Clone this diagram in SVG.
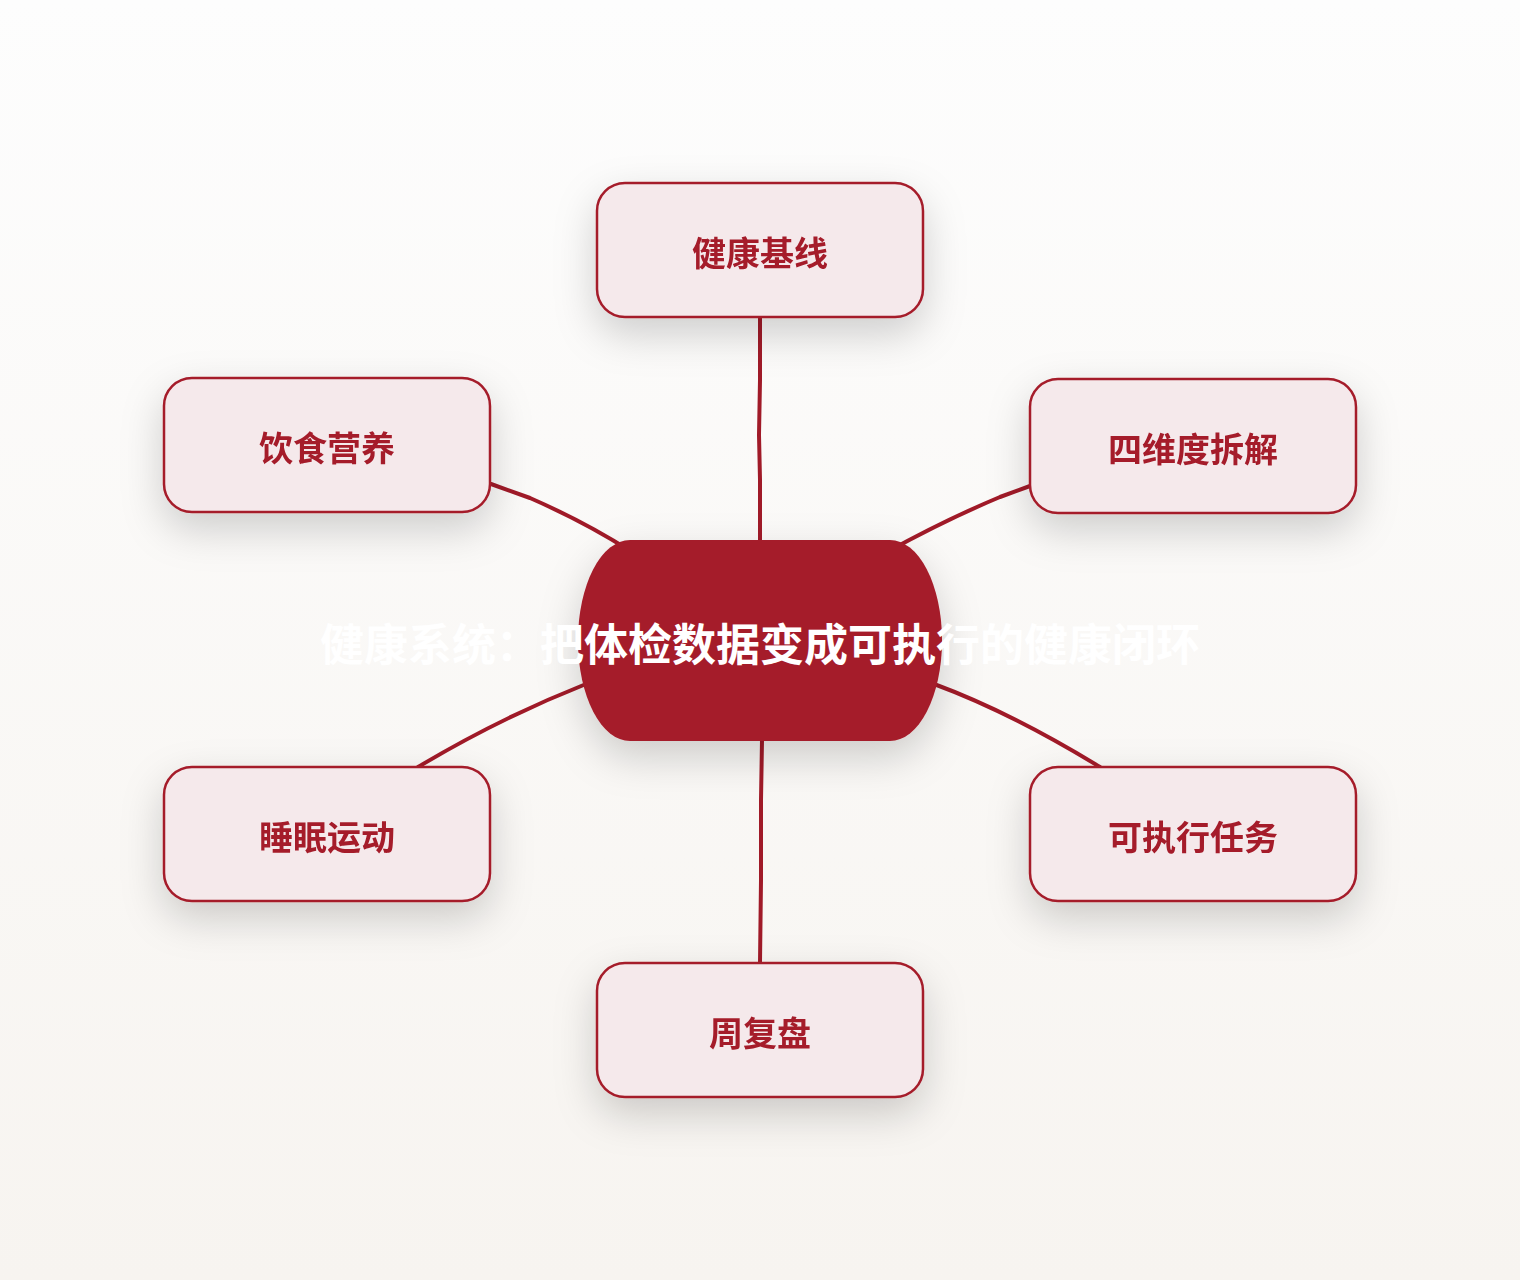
<svg xmlns="http://www.w3.org/2000/svg" width="1520" height="1280" viewBox="0 0 1520 1280">
  <defs>
    <linearGradient id="bg" x1="0" y1="0" x2="0" y2="1">
      <stop offset="0" stop-color="#fdfdfd"/>
      <stop offset="1" stop-color="#f7f4f0"/>
    </linearGradient>
    <filter id="shadow" x="-40%" y="-50%" width="180%" height="220%">
      <feDropShadow dx="0" dy="16" stdDeviation="20" flood-color="#000" flood-opacity="0.18"/>
    </filter>
    <style>
      .node rect.box { fill: #f5e9eb; stroke: #a51c2a; stroke-width: 2.5; }
      .node text { font-family: "Noto Sans CJK SC", "Noto Sans", sans-serif; font-weight: bold; font-size: 34px; fill: #a51c2a; text-anchor: middle; dominant-baseline: central; }
      .hub rect { fill: #a51c2a; }
      .hub text { font-family: "Noto Sans CJK SC", "Noto Sans", sans-serif; font-weight: bold; font-size: 44px; fill: #ffffff; text-anchor: middle; dominant-baseline: central; }
      .edge { fill: none; stroke: #a01a28; stroke-width: 4; stroke-linecap: round; stroke-linejoin: round; }
    </style>
  </defs>
  <rect x="0" y="0" width="1520" height="1280" fill="url(#bg)"/>

  <g id="connectors">
    <path class="edge" d="M760,318 L760,380 L759,435 L760,480 L760,542"/>
    <path class="edge" d="M491,484 L530,498 Q585,522 632,552"/>
    <path class="edge" d="M1030,486 L1000,497 Q945,520 887,552"/>
    <path class="edge" d="M586,684 Q500,718 418,767"/>
    <path class="edge" d="M934,684 Q1010,712 1100,767"/>
    <path class="edge" d="M762,740 L761,800 L761,880 L760,963"/>
  </g>

  <g id="node-baseline" class="node" filter="url(#shadow)">
    <rect class="box" x="597" y="183" width="326" height="134" rx="28" ry="28"/>
    <text x="760" y="251">健康基线</text>
  </g>
  <g id="node-diet" class="node" filter="url(#shadow)">
    <rect class="box" x="164" y="378" width="326" height="134" rx="28" ry="28"/>
    <text x="327" y="446">饮食营养</text>
  </g>
  <g id="node-four" class="node" filter="url(#shadow)">
    <rect class="box" x="1030" y="379" width="326" height="134" rx="28" ry="28"/>
    <text x="1193" y="447">四维度拆解</text>
  </g>
  <g id="node-sleep" class="node" filter="url(#shadow)">
    <rect class="box" x="164" y="767" width="326" height="134" rx="28" ry="28"/>
    <text x="327" y="835">睡眠运动</text>
  </g>
  <g id="node-tasks" class="node" filter="url(#shadow)">
    <rect class="box" x="1030" y="767" width="326" height="134" rx="28" ry="28"/>
    <text x="1193" y="835">可执行任务</text>
  </g>
  <g id="node-review" class="node" filter="url(#shadow)">
    <rect class="box" x="597" y="963" width="326" height="134" rx="28" ry="28"/>
    <text x="760" y="1031">周复盘</text>
  </g>

  <g id="node-hub" class="hub">
    <rect x="578" y="540" width="364" height="201" rx="52" ry="100" filter="url(#shadow)"/>
    <text x="760" y="642">健康系统：把体检数据变成可执行的健康闭环</text>
  </g>
</svg>
